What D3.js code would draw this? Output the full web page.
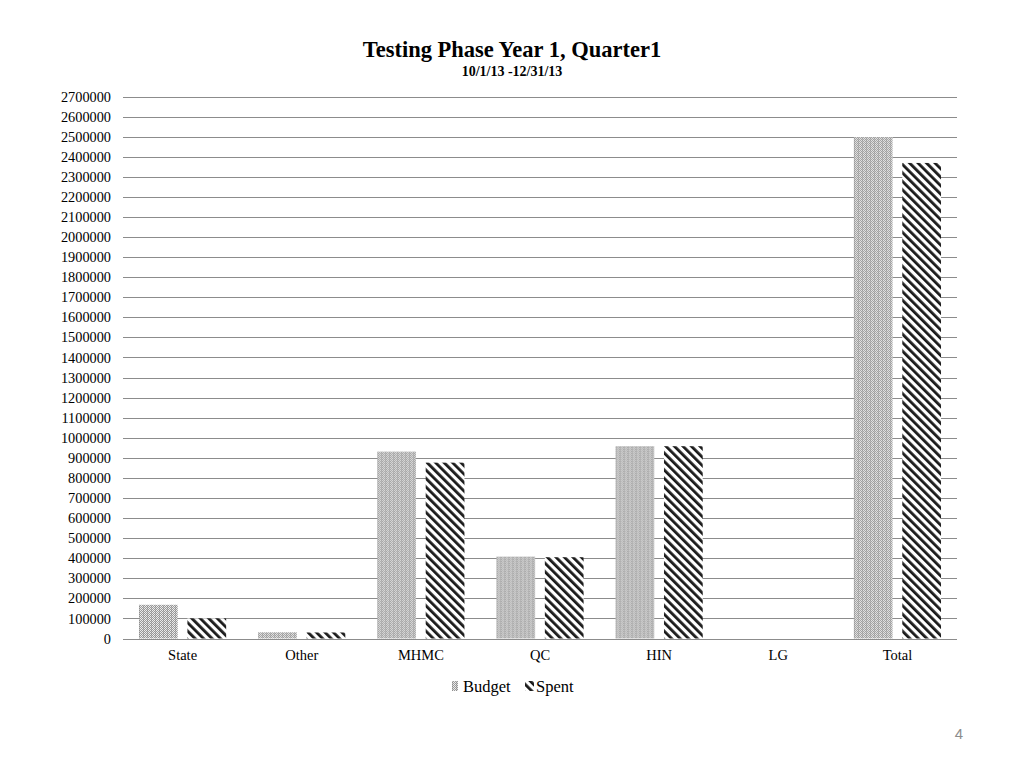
<!DOCTYPE html>
<html>
<head>
<meta charset="utf-8">
<script src="https://cdn.jsdelivr.net/npm/d3@7"></script>
<style>
  html, body { margin: 0; padding: 0; background: #fff; }
  svg { display: block; }
</style>
</head>
<body>
<svg id="chart" width="1024" height="768"></svg>
<script>
const categories = ["State", "Other", "MHMC", "QC", "HIN", "LG", "Total"];
const budget = [168000, 31000, 931000, 408000, 958000, 0, 2498000];
const spent  = [100000, 30000, 876000, 405000, 958000, 0, 2369000];
const seriesNames = ["Budget", "Spent"];
const yTicks = d3.range(0, 2700001, 100000);
const titleText = "Testing Phase Year 1, Quarter1";
const subtitleText = "10/1/13 -12/31/13";
const pageNumber = "4";

const svg = d3.select("#chart");
const defs = svg.append("defs");
const serif = "Liberation Serif, Times New Roman, serif";

// Budget pattern: fine dotted grid
const pb = defs.append("pattern").attr("id", "pBudget")
  .attr("patternUnits", "userSpaceOnUse").attr("width", 4).attr("height", 4);
pb.append("rect").attr("width", 4).attr("height", 4).attr("fill", "#ececec");
[[0,0],[2,0],[1,1],[3,1],[0,2],[2,2],[1,3],[3,3]].forEach(([x,y]) =>
  pb.append("rect").attr("x", x).attr("y", y).attr("width", 1).attr("height", 1).attr("fill", "#9a9a9a"));
pb.append("rect").attr("x", 0).attr("y", 0).attr("width", 1).attr("height", 4).attr("fill", "#777").attr("opacity", 0.35);

// Spent pattern: diagonal "\" stripes
const ps = defs.append("pattern").attr("id", "pSpent")
  .attr("patternUnits", "userSpaceOnUse").attr("width", 6).attr("height", 6)
  .attr("patternTransform", "rotate(-45)");
ps.append("rect").attr("width", 6).attr("height", 6).attr("fill", "#fff");
ps.append("rect").attr("x", 0).attr("width", 2.8).attr("height", 6).attr("fill", "#1a1a1a");

const fills = ["url(#pBudget)", "url(#pSpent)"];

const margin = { left: 123, right: 957, top: 96.5, bottom: 638.5 };

const x = d3.scaleBand().domain(categories).range([margin.left, margin.right]).paddingInner(0).paddingOuter(0);
const xs = d3.scaleBand().domain(seriesNames).range([0, x.bandwidth()]).paddingInner(0.2).paddingOuter(0.33);
const y = d3.scaleLinear().domain([0, 2700000]).range([margin.bottom, margin.top]);

// Gridlines
svg.append("g").selectAll("line").data(yTicks).join("line")
  .attr("x1", margin.left).attr("x2", margin.right)
  .attr("y1", d => Math.round(y(d)) + 0.5).attr("y2", d => Math.round(y(d)) + 0.5)
  .attr("stroke", "#8c8c8c").attr("stroke-width", 1);

// Y axis labels
const yAxis = d3.axisLeft(y).tickValues(yTicks).tickSize(0).tickPadding(0).tickFormat(d3.format("d"));
const yg = svg.append("g").attr("transform", `translate(${111},0)`).call(yAxis);
yg.select(".domain").remove();
yg.selectAll("text").attr("font-family", serif)
  .attr("font-size", 14.3).attr("fill", "#000").attr("x", 0);

// Bars
const data = categories.map((c, i) => ({ cat: c, vals: [budget[i], spent[i]] }));
const groups = svg.append("g").selectAll("g").data(data).join("g")
  .attr("transform", d => `translate(${x(d.cat)},0)`);
groups.selectAll("rect").data(d => d.vals.map((v, j) => ({ v, s: seriesNames[j], j })))
  .join("rect")
  .attr("x", d => xs(d.s))
  .attr("width", xs.bandwidth())
  .attr("y", d => y(d.v))
  .attr("height", d => y(0) - y(d.v))
  .attr("fill", d => fills[d.j]);

// X axis labels
const xAxis = d3.axisBottom(x).tickSize(0).tickPadding(0);
const xg = svg.append("g").attr("transform", `translate(0,${650})`).call(xAxis);
xg.select(".domain").remove();
xg.selectAll("text").attr("font-family", serif)
  .attr("font-size", 14.5).attr("fill", "#000");

// Title
svg.append("text").attr("x", 512).attr("y", 57).attr("text-anchor", "middle")
  .attr("font-family", serif).attr("font-weight", "bold")
  .attr("font-size", 22.5).text(titleText);
svg.append("text").attr("x", 512).attr("y", 76).attr("text-anchor", "middle")
  .attr("font-family", serif).attr("font-weight", "bold")
  .attr("font-size", 14).text(subtitleText);

// Legend
const legendItems = [
  { name: seriesNames[0], fill: fills[0], sx: 452, sw: 6, tx: 463 },
  { name: seriesNames[1], fill: fills[1], sx: 525, sw: 9, tx: 536 }
];
const lg = svg.append("g");
legendItems.forEach(it => {
  lg.append("rect").attr("x", it.sx).attr("y", 681).attr("width", it.sw).attr("height", 10).attr("fill", it.fill);
  lg.append("text").attr("x", it.tx).attr("y", 692)
    .attr("font-family", serif).attr("font-size", 16.5)
    .text(it.name);
});

// Page number
svg.append("text").attr("x", 963).attr("y", 739).attr("text-anchor", "end")
  .attr("font-family", "Liberation Sans, Arial, sans-serif").attr("font-size", 15).attr("fill", "#8c8c8c")
  .text(pageNumber);
</script>
</body>
</html>
